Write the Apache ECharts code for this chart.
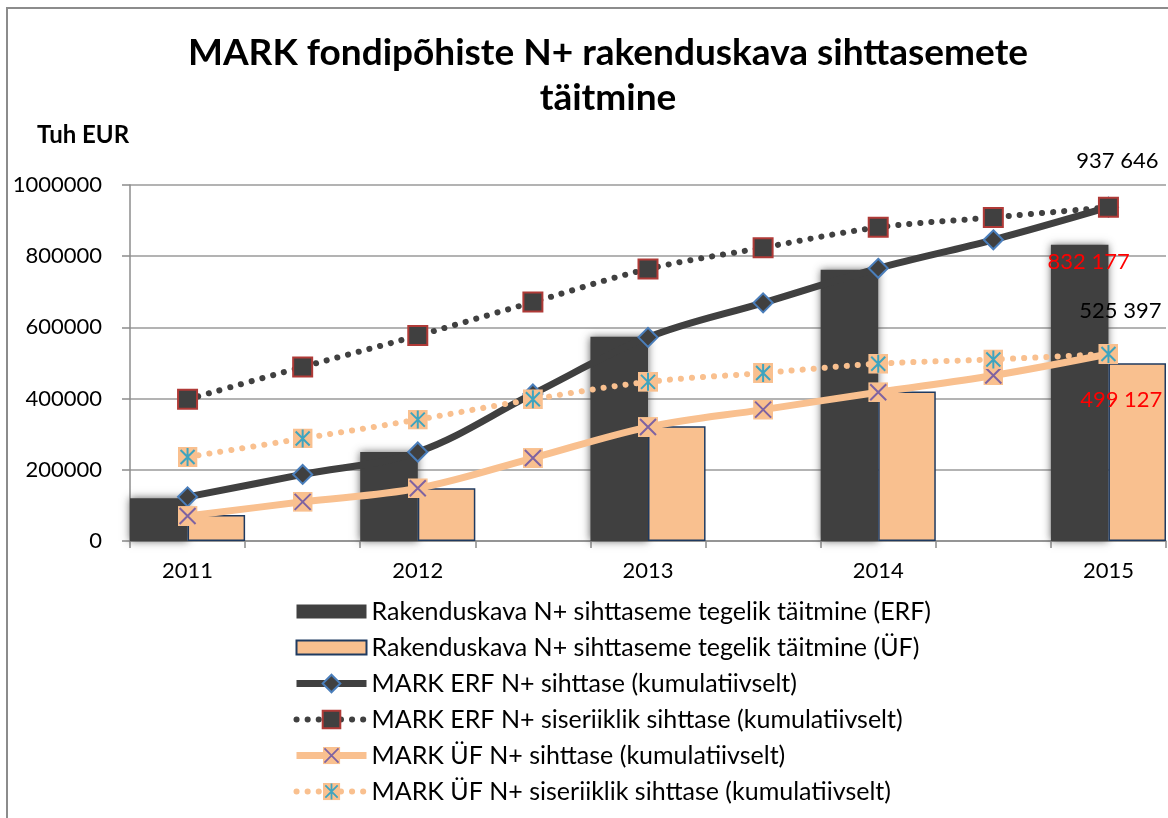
<!DOCTYPE html>
<html>
<head>
<meta charset="utf-8">
<script src="https://cdn.jsdelivr.net/npm/echarts@6/dist/echarts.min.js"></script>
<style>
  html, body { margin: 0; padding: 0; background: #fff; }
  #main { width: 1168px; height: 818px; }
</style>
</head>
<body>
<div id="main"></div>
<script>
// categories: years with half-year slots in between
const categories = ['2011', '', '2012', '', '2013', '', '2014', '', '2015']
const yTicks = [0, 200000, 400000, 600000, 800000, 1000000]

// bars (only on year slots)
const erfActual = [120000, null, 250000, null, 574000, null, 762000, null, 832177]
const ufActual = [73000, null, 148000, null, 322000, null, 420000, null, 499127]

// lines (cumulative)
const erfTarget = [124000, 187000, 250000, 413000, 572000, 669000, 766000, 846000, 937646]
const erfNational = [398000, 489000, 577000, 671000, 764000, 824000, 881000, 909000, 937646]
const ufTarget = [70000, 110000, 148000, 233000, 320000, 369000, 418000, 465000, 525397]
const ufNational = [236000, 288000, 341000, 398000, 447000, 472000, 498000, 510000, 525397]

const names = [
  'Rakenduskava N+ sihttaseme tegelik täitmine (ERF)',
  'Rakenduskava N+ sihttaseme tegelik täitmine (ÜF)',
  'MARK ERF N+ sihttase (kumulatiivselt)',
  'MARK ERF N+ siseriiklik sihttase (kumulatiivselt)',
  'MARK ÜF N+ sihttase (kumulatiivselt)',
  'MARK ÜF N+ siseriiklik sihttase (kumulatiivselt)'
]

const FONT = 'Lato'
const DARK = '#404040'
const PEACH = '#f9c08f'

function svgIcon(inner) {
  const svg = "<svg xmlns='http://www.w3.org/2000/svg' width='20' height='20'>" +
    "<rect x='0' y='0' width='20' height='20' fill='" + PEACH + "'/>" + inner + '</svg>'
  return 'image://data:image/svg+xml;utf8,' + encodeURIComponent(svg)
}
const crossIcon = svgIcon("<path d='M2 2L18 18M18 2L2 18' stroke='#7f63a1' stroke-width='2'/>")
const starIcon = svgIcon("<path d='M3 3L17 17M17 3L3 17M10 1V19' stroke='#3ea4bf' stroke-width='2'/>")

function fmt(v) {
  return String(v).replace(/\B(?=(\d{3})+(?!\d))/g, ' ')
}

// label only on the last point
function withLastLabel(arr, label) {
  return arr.map((v, i) => (i === arr.length - 1 ? { value: v, label: label } : v))
}

const chart = echarts.init(document.getElementById('main'))

chart.setOption({
  backgroundColor: '#fff',
  animation: false,
  textStyle: { fontFamily: FONT },
  title: {
    text: 'MARK fondipõhiste N+ rakenduskava sihttasemete\ntäitmine',
    left: 603,
    top: 26,
    textAlign: 'center',
    textStyle: {
      fontFamily: FONT,
      fontSize: 37,
      fontWeight: 'bold',
      color: '#000',
      lineHeight: 45
    }
  },
  graphic: [
    {
      type: 'rect',
      shape: { x: 7, y: 8, width: 1200, height: 840 },
      style: { fill: 'none', stroke: '#8c8c8c', lineWidth: 2 },
      silent: true
    },
    {
      type: 'text',
      left: 37,
      top: 123,
      style: {
        text: 'Tuh EUR',
        font: 'bold 24px ' + FONT,
        fill: '#000'
      }
    }
  ],
  legend: {
    orient: 'vertical',
    left: 288,
    top: 594,
    itemWidth: 70,
    itemHeight: 22,
    itemGap: 11,
    lineStyle: { width: 'inherit' },
    textStyle: { fontFamily: FONT, fontSize: 25, color: '#000', lineHeight: 24 },
    data: [
      { name: names[0], icon: 'path://M0,0 h70 v14 h-70 z' },
      { name: names[1], icon: 'path://M0,0 h70 v14 h-70 z' },
      names[2], names[3], names[4], names[5]
    ]
  },
  grid: {
    left: 130,
    right: 2,
    top: 185,
    bottom: 277,
    containLabel: false
  },
  xAxis: {
    type: 'category',
    data: categories,
    boundaryGap: true,
    axisLine: { lineStyle: { color: '#8c8c8c', width: 1.5 } },
    axisTick: { show: true, length: 7, lineStyle: { color: '#8c8c8c', width: 1.5 } },
    axisLabel: {
      interval: 0,
      margin: 19,
      fontFamily: FONT,
      fontSize: 22,
      color: '#000'
    }
  },
  yAxis: {
    type: 'value',
    min: yTicks[0],
    max: yTicks[yTicks.length - 1],
    interval: yTicks[1] - yTicks[0],
    axisLine: { show: true, lineStyle: { color: '#8c8c8c', width: 1.5 } },
    axisTick: { show: true, length: 8, lineStyle: { color: '#8c8c8c', width: 1.5 } },
    axisLabel: {
      margin: 28,
      fontFamily: FONT,
      fontSize: 22,
      color: '#000',
      formatter: v => String(v)
    },
    splitLine: { show: true, lineStyle: { color: '#9a9a9a', width: 1.5 } }
  },
  series: [
    {
      name: names[0],
      type: 'bar',
      barGap: '0%',
      barCategoryGap: '0%',
      z: 1,
      itemStyle: {
        color: DARK,
        shadowBlur: 8,
        shadowColor: 'rgba(64,64,64,0.8)'
      },
      data: withLastLabel(erfActual, {
        show: true,
        position: 'insideTop',
        distance: 6,
        offset: [9, 0],
        color: '#ff0000',
        fontFamily: FONT,
        fontSize: 22,
        formatter: p => fmt(p.value)
      })
    },
    {
      name: names[1],
      type: 'bar',
      z: 2,
      itemStyle: {
        color: PEACH,
        borderColor: '#1f3a60',
        borderWidth: 1.5
      },
      data: withLastLabel(ufActual, {
        show: true,
        position: 'insideTop',
        distance: 6,
        offset: [-16, 20],
        color: '#ff0000',
        fontFamily: FONT,
        fontSize: 22,
        formatter: p => fmt(p.value)
      })
    },
    {
      name: names[2],
      type: 'line',
      smooth: 0.35,
      z: 4,
      symbol: 'diamond',
      symbolSize: 19,
      lineStyle: { color: DARK, width: 7 },
      itemStyle: { color: DARK, borderColor: '#4a7ebb', borderWidth: 2 },
      data: erfTarget
    },
    {
      name: names[3],
      type: 'line',
      smooth: 0.35,
      z: 5,
      symbol: 'rect',
      symbolSize: 19,
      lineStyle: { color: DARK, width: 6, type: [0.1, 11], cap: 'round' },
      itemStyle: { color: DARK, borderColor: '#b03a37', borderWidth: 2 },
      data: withLastLabel(erfNational, {
        show: true,
        position: 'top',
        offset: [9, -20],
        color: '#000',
        fontFamily: FONT,
        fontSize: 22,
        formatter: p => fmt(p.value)
      })
    },
    {
      name: names[4],
      type: 'line',
      smooth: 0.35,
      z: 4,
      symbol: crossIcon,
      symbolSize: 20,
      lineStyle: { color: PEACH, width: 7 },
      itemStyle: { color: PEACH },
      data: ufTarget
    },
    {
      name: names[5],
      type: 'line',
      smooth: 0.35,
      z: 5,
      symbol: starIcon,
      symbolSize: 20,
      lineStyle: { color: PEACH, width: 6, type: [0.1, 11], cap: 'round' },
      itemStyle: { color: PEACH },
      data: withLastLabel(ufNational, {
        show: true,
        position: 'top',
        offset: [12, -17],
        color: '#000',
        fontFamily: FONT,
        fontSize: 22,
        formatter: p => fmt(p.value)
      })
    }
  ]
})
</script>
</body>
</html>
